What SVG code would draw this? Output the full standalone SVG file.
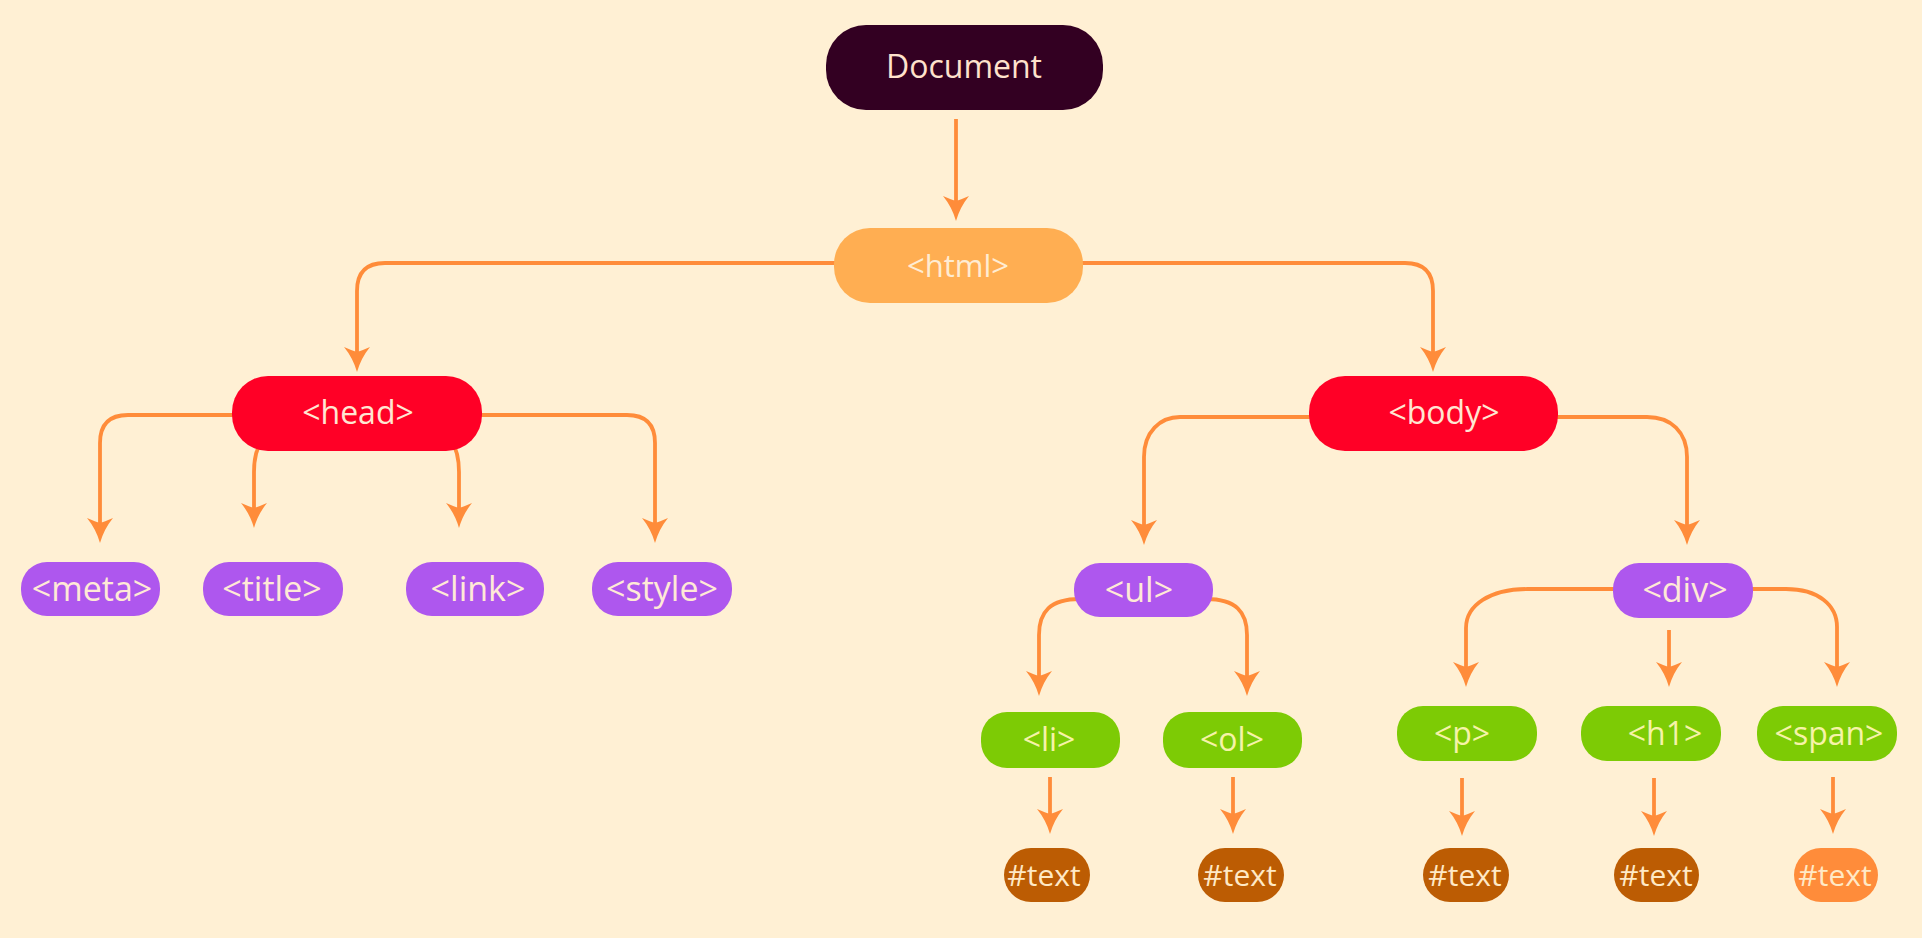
<svg xmlns="http://www.w3.org/2000/svg" width="1922" height="938" viewBox="0 0 1922 938">
<defs>
<style>
.lbl{font-family:"Open Sans","Noto Sans","DejaVu Sans",sans-serif;text-anchor:middle}
.con{fill:none;stroke:#ff8c3a;stroke-width:3.8;marker-end:url(#ah)}
.red{fill:#ff0026}
.pur{fill:#ae57ee}
.grn{fill:#7dcb05}
.brn{fill:#bc5c03}
.t32{font-size:32px;fill:#ffe6d2}
.tp{font-size:34px;fill:#ffe9d6}
.tg{font-size:32px;fill:#f6f3a8}
.tt{font-size:30px;fill:#ffe9c6}
</style>
<marker id="ah" viewBox="-15 -14 27 28" refX="0" refY="0" markerWidth="27" markerHeight="28" markerUnits="userSpaceOnUse" orient="auto">
<path d="M11,0 Q-3,-4 -14,-13 Q-10,-4 -9,0 Q-10,4 -14,13 Q-3,4 11,0 Z" fill="#ff8c3a"/>
</marker>
</defs>
<rect x="0" y="0" width="1922" height="938" fill="#fff0d4"/>
<g id="connectors">
<path class="con" d="M956,119 L956,210"/>
<path class="con" d="M840,263 L385,263 Q357,263 357,291 L357,361"/>
<path class="con" d="M1078,263 L1405,263 Q1433,263 1433,291 L1433,361"/>
<path class="con" d="M240,415 L128,415 Q100,415 100,443 L100,532"/>
<path class="con" d="M262,440 Q254,452 254,472 L254,517"/>
<path class="con" d="M451,440 Q459,452 459,472 L459,517"/>
<path class="con" d="M475,415 L627,415 Q655,415 655,443 L655,532"/>
<path class="con" d="M1315,417 L1180,417 C1160,417 1144,432 1144,457 L1144,534"/>
<path class="con" d="M1550,417 L1647,417 C1671,417 1687,432 1687,457 L1687,534"/>
<path class="con" d="M1080,599 C1050,599 1039,612 1039,635 L1039,685"/>
<path class="con" d="M1206,599 C1236,599 1247,612 1247,635 L1247,685"/>
<path class="con" d="M1620,589 L1528,589 C1490,589 1466,605 1466,628 L1466,676"/>
<path class="con" d="M1669,630 L1669,676"/>
<path class="con" d="M1746,589 L1786,589 C1818,589 1837,605 1837,627 L1837,676"/>
<path class="con" d="M1050,777 L1050,823"/>
<path class="con" d="M1233,777 L1233,823"/>
<path class="con" d="M1462,778 L1462,825"/>
<path class="con" d="M1654,778 L1654,825"/>
<path class="con" d="M1833,777 L1833,823"/>
</g>
<g id="node-document"><rect x="826" y="25" width="277" height="85" rx="40" fill="#330022"/><text class="lbl" x="964" y="78" font-size="32" fill="#ffe2cc">Document</text></g>
<g id="node-html"><rect x="834" y="228" width="249" height="75" rx="36" fill="#ffae52"/><text class="lbl" x="958" y="277" font-size="31" fill="#ffecd2">&lt;html&gt;</text></g>
<g id="node-head"><rect class="red" x="232" y="376" width="250" height="75" rx="36"/><text class="lbl t32" x="358" y="424">&lt;head&gt;</text></g>
<g id="node-body"><rect class="red" x="1309" y="376" width="249" height="75" rx="36"/><text class="lbl t32" x="1444" y="424">&lt;body&gt;</text></g>
<g id="node-meta"><rect class="pur" x="21" y="562" width="139" height="54" rx="26"/><text class="lbl tp" x="92" y="601">&lt;meta&gt;</text></g>
<g id="node-title"><rect class="pur" x="203" y="562" width="140" height="54" rx="26"/><text class="lbl tp" x="272" y="601">&lt;title&gt;</text></g>
<g id="node-link"><rect class="pur" x="406" y="562" width="138" height="54" rx="26"/><text class="lbl tp" x="478" y="601">&lt;link&gt;</text></g>
<g id="node-style"><rect class="pur" x="592" y="562" width="140" height="54" rx="26"/><text class="lbl tp" x="662" y="601">&lt;style&gt;</text></g>
<g id="node-ul"><rect class="pur" x="1074" y="563" width="139" height="54" rx="26"/><text class="lbl tp" x="1139" y="602">&lt;ul&gt;</text></g>
<g id="node-div"><rect class="pur" x="1613" y="563" width="140" height="55" rx="26"/><text class="lbl tp" x="1685" y="602">&lt;div&gt;</text></g>
<g id="node-li"><rect class="grn" x="981" y="712" width="139" height="56" rx="26"/><text class="lbl tg" x="1049" y="751">&lt;li&gt;</text></g>
<g id="node-ol"><rect class="grn" x="1163" y="712" width="139" height="56" rx="26"/><text class="lbl tg" x="1232" y="751">&lt;ol&gt;</text></g>
<g id="node-p"><rect class="grn" x="1397" y="706" width="140" height="55" rx="26"/><text class="lbl tg" x="1462" y="745">&lt;p&gt;</text></g>
<g id="node-h1"><rect class="grn" x="1581" y="706" width="140" height="55" rx="26"/><text class="lbl tg" x="1665" y="745">&lt;h1&gt;</text></g>
<g id="node-span"><rect class="grn" x="1757" y="706" width="140" height="55" rx="26"/><text class="lbl tg" x="1829" y="745">&lt;span&gt;</text></g>
<g id="node-text1"><rect class="brn" x="1004" y="848" width="86" height="54" rx="27"/><text class="lbl tt" x="1044" y="886">#text</text></g>
<g id="node-text2"><rect class="brn" x="1198" y="848" width="86" height="54" rx="27"/><text class="lbl tt" x="1240" y="886">#text</text></g>
<g id="node-text3"><rect class="brn" x="1423" y="848" width="86" height="54" rx="27"/><text class="lbl tt" x="1465" y="886">#text</text></g>
<g id="node-text4"><rect class="brn" x="1614" y="848" width="85" height="54" rx="27"/><text class="lbl tt" x="1656" y="886">#text</text></g>
<g id="node-text5"><rect x="1794" y="848" width="84" height="54" rx="27" fill="#ff8c3a"/><text class="lbl tt" x="1835" y="886">#text</text></g>
</svg>
